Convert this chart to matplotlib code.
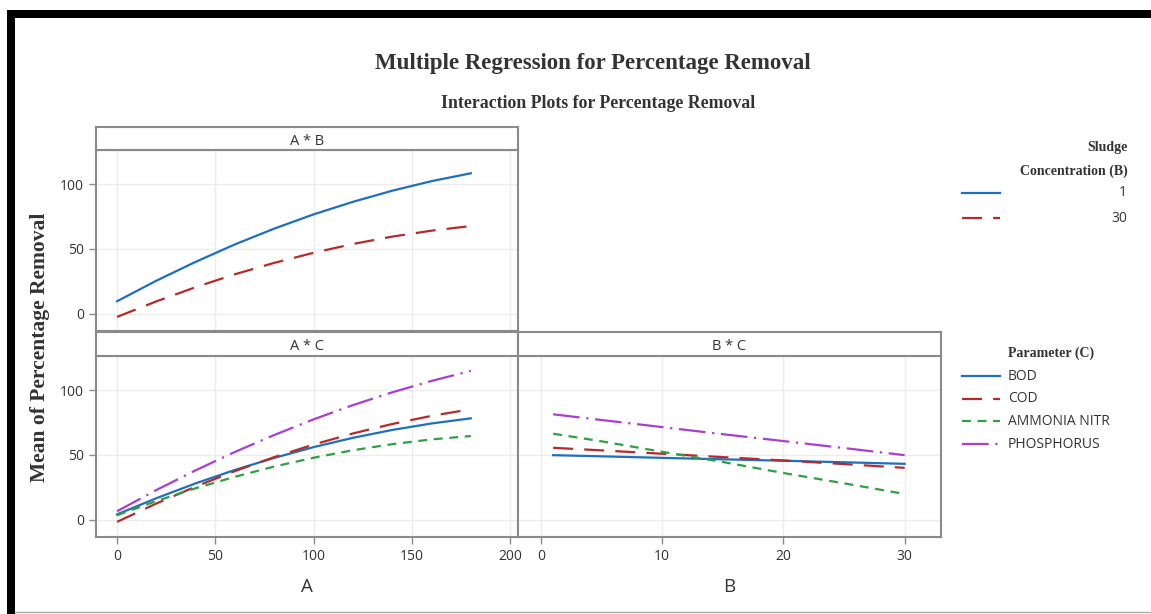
import matplotlib
matplotlib.use("Agg")
from matplotlib import pyplot as plt
from matplotlib.lines import Line2D
from matplotlib.patches import Rectangle

# values
a_vals = [0, 20, 40, 60, 80, 100, 120, 140, 160, 180]
ab_sludge_1 = [9.5, 25.4, 40.0, 53.5, 65.7, 76.7, 86.4, 95.0, 102.4, 108.5]
ab_sludge_30 = [-2.6, 9.4, 20.4, 30.4, 39.2, 47.0, 53.8, 59.5, 64.1, 67.7]

ac_bod = [4.0, 16.5, 28.0, 38.4, 47.7, 56.0, 63.2, 69.3, 74.3, 78.3]
ac_cod = [-1.8, 12.4, 25.5, 37.5, 48.3, 58.0, 66.6, 73.9, 80.2, 85.3]
ac_ammonia = [3.3, 14.3, 24.2, 33.1, 41.0, 47.8, 53.6, 58.3, 62.0, 64.6]
ac_phos = [6.4, 22.8, 38.1, 52.3, 65.4, 77.5, 88.5, 98.4, 107.2, 115.0]

b_vals = [1, 5, 10, 15, 20, 25, 30]
bc_bod = [49.8, 48.9, 47.7, 46.6, 45.5, 44.3, 43.1]
bc_cod = [55.5, 53.5, 50.9, 48.3, 45.7, 42.9, 40.0]
bc_ammonia = [66.4, 60.5, 52.4, 44.5, 36.0, 28.0, 19.8]
bc_phos = [81.4, 77.0, 71.5, 66.0, 60.7, 55.3, 49.8]

sludge_labels = ["1", "30"]
param_labels = ["BOD", "COD", "AMMONIA NITR", "PHOSPHORUS"]

BLUE = "#1f6fc0"
RED = "#b52a2a"
GREEN = "#2ea043"
PURPLE = "#a83fd0"
FRAME = "#8a8a8a"
TXT = "#333333"

styles = [
    dict(color=BLUE, ls="-"),
    dict(color=RED, ls=(0, (9, 5))),
    dict(color=GREEN, ls=(0, (4, 3))),
    dict(color=PURPLE, ls=(0, (12, 3, 1, 3))),
]

W, H = 1151, 614
fig = plt.figure(figsize=(W / 100, H / 100), dpi=100)
fig.patch.set_facecolor("white")

def box(x0, y0, x1, y1):
    # pixel box (top-left origin) -> figure fraction rect
    return [x0 / W, 1 - y1 / H, (x1 - x0) / W, (y1 - y0) / H]

sans = ["Open Sans", "DejaVu Sans"]
serif = "Liberation Serif"

def style_ax(ax, xlim, xticks, show_y=True, show_x=True):
    ax.set_xlim(*xlim)
    ax.set_ylim(-13.5, 126.5)
    ax.set_xticks(xticks)
    ax.set_yticks([0, 50, 100])
    ax.grid(True, color="#ececec", lw=1)
    ax.set_axisbelow(True)
    for s in ax.spines.values():
        s.set_color(FRAME)
        s.set_linewidth(1.5)
    ax.tick_params(colors=FRAME, length=5, width=1, labelcolor=TXT, labelsize=10)
    for lab in ax.get_xticklabels() + ax.get_yticklabels():
        lab.set_family(sans)
    if not show_y:
        ax.tick_params(axis="y", left=False, labelleft=False)
    if not show_x:
        ax.tick_params(axis="x", bottom=False, labelbottom=False)

def strip(x0, y0, x1, y1, text):
    s = fig.add_axes(box(x0, y0, x1, y1))
    s.set_xticks([])
    s.set_yticks([])
    for sp in s.spines.values():
        sp.set_color(FRAME)
        sp.set_linewidth(1.5)
    s.text(0.5, 0.38, text, ha="center", va="center", fontsize=10.5,
           family=sans, color=TXT, transform=s.transAxes)

# A * B
ax1 = fig.add_axes(box(96, 150, 518, 331))
ax1.plot(a_vals, ab_sludge_1, lw=1.6, **styles[0])
ax1.plot(a_vals, ab_sludge_30, lw=1.6, **styles[1])
style_ax(ax1, (-10.7, 204), [0, 50, 100, 150, 200], show_x=False)
strip(96, 127, 518, 150, "A * B")

# A * C
ax2 = fig.add_axes(box(96, 356, 518, 537))
for ys, st in zip([ac_bod, ac_cod, ac_ammonia, ac_phos], styles):
    ax2.plot(a_vals, ys, lw=1.6, **st)
style_ax(ax2, (-10.7, 204), [0, 50, 100, 150, 200])
ax2.set_xlabel("A", fontsize=13.5, family=sans, color=TXT, labelpad=10)
strip(96, 332, 518, 356, "A * C")

# B * C
ax3 = fig.add_axes(box(518, 356, 941, 537))
for ys, st in zip([bc_bod, bc_cod, bc_ammonia, bc_phos], styles):
    ax3.plot(b_vals, ys, lw=1.6, **st)
style_ax(ax3, (-1.9, 33.0), [0, 10, 20, 30], show_y=False)
ax3.set_xlabel("B", fontsize=13.5, family=sans, color=TXT, labelpad=10)
strip(518, 332, 941, 356, "B * C")

# titles
fig.text(593 / W, 1 - 64 / H, "Multiple Regression for Percentage Removal",
         ha="center", va="center", fontsize=16.5, family=serif, weight="bold", color=TXT)
fig.text(598 / W, 1 - 104 / H, "Interaction Plots for Percentage Removal",
         ha="center", va="center", fontsize=12.8, family=serif, weight="bold", color=TXT)
fig.text(40 / W, 1 - 347 / H, "Mean of Percentage Removal", rotation=90,
         ha="center", va="center", fontsize=15.5, family=serif, weight="bold", color=TXT)

# legends
lg = fig.add_axes([0, 0, 1, 1])
lg.set_xlim(0, W)
lg.set_ylim(H, 0)
lg.axis("off")
lg.patch.set_alpha(0)

lg.text(1128, 148, "Sludge", ha="right", va="center", fontsize=10,
        family=serif, weight="bold", color=TXT)
lg.text(1128, 171, "Concentration (B)", ha="right", va="center", fontsize=10,
        family=serif, weight="bold", color=TXT)
for i, lab in enumerate(sludge_labels):
    y = 193 + i * 25
    lg.add_line(Line2D([962, 1000], [y, y], lw=1.6, **styles[i]))
    lg.text(1127, y, lab, ha="right", va="center", fontsize=10,
            family=sans, color=TXT)

lg.text(1008, 353, "Parameter (C)", ha="left", va="center", fontsize=10,
        family=serif, weight="bold", color=TXT)
for i, lab in enumerate(param_labels):
    y = 376 + i * 22.7
    lg.add_line(Line2D([962, 1000], [y, y], lw=1.6, **styles[i]))
    lg.text(1008, y, lab, ha="left", va="center", fontsize=10,
            family=sans, color=TXT)

# frame of the screenshot
lg.add_patch(Rectangle((7, 10), W - 7, 8, color="black", lw=0))
lg.add_patch(Rectangle((7, 10), 8, H - 10, color="black", lw=0))
lg.add_line(Line2D([15, W], [612, 612], color="#aaaaaa", lw=1))

fig.savefig("out.png", dpi=100)
